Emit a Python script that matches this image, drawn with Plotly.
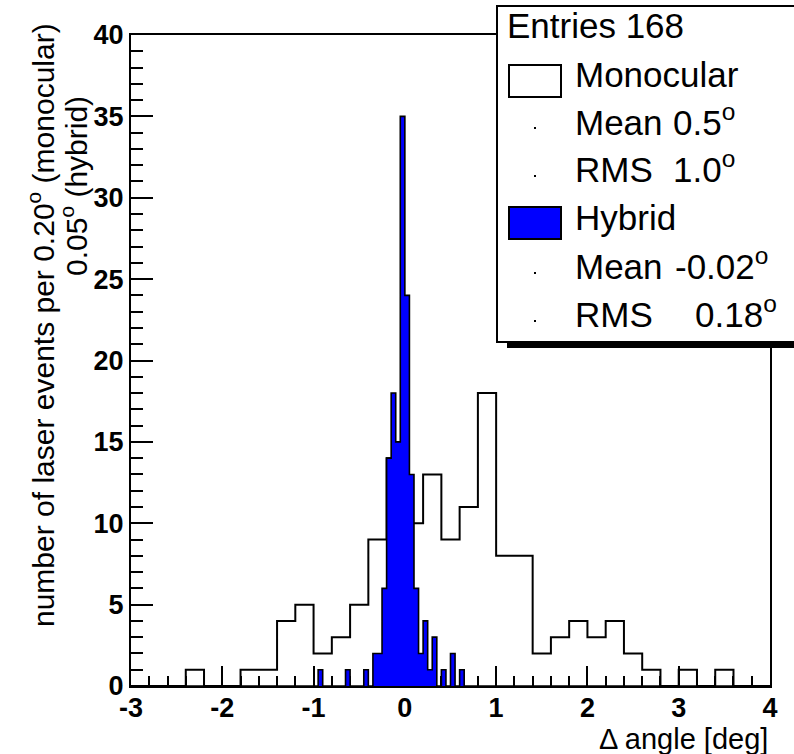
import numpy as np
import plotly.graph_objects as go

# ---------------- data ----------------
# Monocular: 0.20 deg bins from -3 to 4 (35 bins)
mono_lo = -3.0
mono_width = 0.2
mono_counts = [0, 0, 0, 1, 0, 0, 1, 1, 4, 5, 2, 3, 5, 9, 14, 10, 13, 9, 11, 18,
               8, 8, 2, 3, 4, 3, 4, 2, 1, 0, 1, 0, 1, 0, 0]

# Hybrid: 0.05 deg bins, non-empty bins given by lower edge
hyb_width = 0.05
hyb_bin_low = [-0.95, -0.65, -0.45, -0.35, -0.30, -0.25, -0.20, -0.15, -0.10, -0.05,
               0.00, 0.05, 0.10, 0.15, 0.20, 0.25, 0.30, 0.40, 0.50, 0.60]
hyb_counts = [1, 1, 1, 2, 2, 6, 14, 18, 15, 35,
              24, 13, 6, 2, 4, 1, 3, 1, 2, 1]

x_tick_vals = [-3, -2, -1, 0, 1, 2, 3, 4]
x_tick_labels = ["-3", "-2", "-1", "0", "1", "2", "3", "4"]
y_tick_vals = [0, 5, 10, 15, 20, 25, 30, 35, 40]
y_tick_labels = ["0", "5", "10", "15", "20", "25", "30", "35", "40"]

stats_entries = "Entries 168"
mono_name, hyb_name = "Monocular", "Hybrid"
mono_mean, mono_rms = "0.5", "1.0"
hyb_mean, hyb_rms = "-0.02", "0.18"

# ---------------- build step arrays ----------------
n_mono = len(mono_counts)
mono_edges = np.round(mono_lo + mono_width * np.arange(n_mono + 1), 4)
mono_y = list(mono_counts) + [mono_counts[-1]]

n_hyb = int(round(7.0 / hyb_width))
hyb_full = np.zeros(n_hyb)
for lo, c in zip(hyb_bin_low, hyb_counts):
    hyb_full[int(round((lo - mono_lo) / hyb_width))] = c
hyb_edges = np.round(mono_lo + hyb_width * np.arange(n_hyb + 1), 4)
hyb_y = list(hyb_full) + [hyb_full[-1]]

# ---------------- geometry ----------------
W, H = 794, 754
L, R, T, B = 131, 770, 35, 686


def px(x):
    return (x - L) / (R - L)


def py(y):
    return (B - y) / (B - T)


fig = go.Figure()
fig.add_trace(go.Scatter(x=mono_edges, y=mono_y, mode="lines",
                         line=dict(shape="hv", color="black", width=2),
                         hoverinfo="skip", showlegend=False))
fig.add_trace(go.Scatter(x=hyb_edges, y=hyb_y, mode="lines",
                         line=dict(shape="hv", color="black", width=1.6),
                         fill="tozeroy", fillcolor="#0000ff",
                         hoverinfo="skip", showlegend=False))

tickfont = dict(family="Liberation Sans, Arial, sans-serif", size=27, color="black",
                weight="bold")
fig.update_xaxes(range=[-3, 4], tickvals=x_tick_vals, ticktext=x_tick_labels,
                 ticks="inside", ticklen=20, tickwidth=2, tickcolor="black",
                 minor=dict(dtick=0.2, tick0=-3, ticks="inside", ticklen=10,
                            tickwidth=2, tickcolor="black"),
                 showline=True, linewidth=2, linecolor="black", mirror=True,
                 showgrid=False, zeroline=False, layer="below traces",
                 tickfont=tickfont, ticklabelstandoff=-3)
fig.update_yaxes(range=[0, 40], tickvals=y_tick_vals, ticktext=y_tick_labels,
                 ticks="inside", ticklen=22, tickwidth=2, tickcolor="black",
                 minor=dict(dtick=1, tick0=0, ticks="inside", ticklen=12,
                            tickwidth=2, tickcolor="black"),
                 showline=True, linewidth=2, linecolor="black", mirror=True,
                 showgrid=False, zeroline=False, layer="below traces",
                 tickfont=tickfont, ticklabelstandoff=0)

shapes = []
annots = []
tfont = dict(family="Liberation Sans, Arial, sans-serif", size=29, color="black")

# axis titles
annots.append(dict(text="\u0394 angle [deg]", x=px(770), y=py(739), xref="paper", yref="paper",
                   xanchor="right", yanchor="middle", showarrow=False, font=tfont))
annots.append(dict(text="number of laser events per 0.20<sup>o</sup> (monocular)",
                   x=px(41), y=py(325), xref="paper", yref="paper", textangle=-90,
                   xanchor="center", yanchor="middle", showarrow=False,
                   font=dict(tfont, size=30)))
annots.append(dict(text="0.05<sup>o</sup> (hybrid)",
                   x=px(74), y=py(186), xref="paper", yref="paper", textangle=-90,
                   xanchor="center", yanchor="middle", showarrow=False,
                   font=dict(tfont, size=30)))

# stats / legend box
shapes.append(dict(type="rect", xref="paper", yref="paper",
                   x0=px(507), x1=px(820), y0=py(348), y1=py(12),
                   fillcolor="black", line=dict(width=0), layer="above"))
shapes.append(dict(type="rect", xref="paper", yref="paper",
                   x0=px(497), x1=px(814), y0=py(342), y1=py(6),
                   fillcolor="white", line=dict(color="black", width=2), layer="above"))
shapes.append(dict(type="rect", xref="paper", yref="paper",
                   x0=px(509), x1=px(561), y0=py(97), y1=py(65),
                   fillcolor="white", line=dict(color="black", width=2), layer="above"))
shapes.append(dict(type="rect", xref="paper", yref="paper",
                   x0=px(509), x1=px(561), y0=py(239), y1=py(207),
                   fillcolor="#0000ff", line=dict(color="black", width=2), layer="above"))
for yy in [128, 176, 273, 321]:
    shapes.append(dict(type="rect", xref="paper", yref="paper",
                       x0=px(534), x1=px(536), y0=py(yy + 1), y1=py(yy - 1),
                       fillcolor="black", line=dict(width=0), layer="above"))

lfont = dict(family="Liberation Sans, Arial, sans-serif", size=35, color="black")


def legtext(txt, xpix, ybase):
    # anchored at the bottom of the text box (baseline + descent)
    annots.append(dict(text=txt, x=px(xpix), y=py(ybase + 9), xref="paper", yref="paper",
                       xanchor="left", yanchor="bottom", showarrow=False, font=lfont))


legtext(stats_entries, 505, 38)
legtext(mono_name, 573, 87)
legtext("Mean", 573, 135)
legtext(mono_mean + "<sup>o</sup>", 671, 135)
legtext("RMS", 573, 182)
legtext(mono_rms + "<sup>o</sup>", 671, 182)
legtext(hyb_name, 573, 230)
legtext("Mean", 573, 279)
legtext(hyb_mean + "<sup>o</sup>", 673, 279)
legtext("RMS", 573, 327)
legtext(hyb_rms + "<sup>o</sup>", 693, 327)

fig.update_layout(width=W, height=H, margin=dict(l=L, r=W - R, t=T, b=H - B),
                  paper_bgcolor="white", plot_bgcolor="white",
                  shapes=shapes, annotations=annots, showlegend=False)

fig.write_html("out.html")
